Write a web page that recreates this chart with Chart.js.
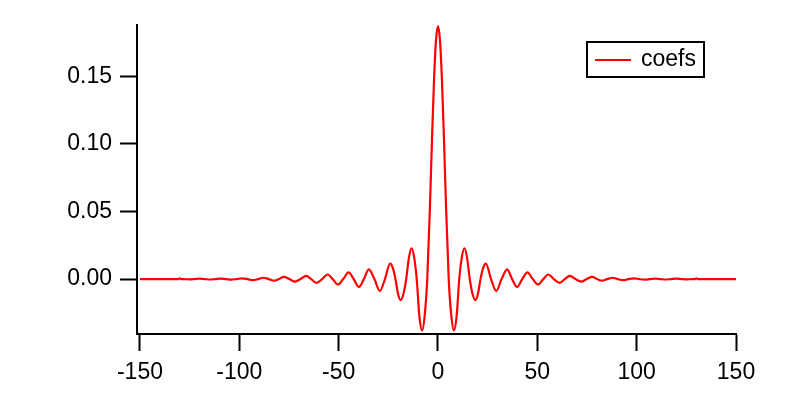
<!DOCTYPE html>
<html>
<head>
<meta charset="utf-8">
<script src="https://cdn.jsdelivr.net/npm/chart.js@4/dist/chart.umd.min.js"></script>
<style>
  html, body { margin: 0; padding: 0; background: #fff; }
  #chart { display: block; }
</style>
</head>
<body>
<canvas id="chart" width="790" height="416"></canvas>
<script>
// sample positions (turning points and zero crossings)
const xValues = [
  -150, -131, -130, -129, -128,
  -125.3, -122.7, -120, -117.4, -114.7, -112, -109.4, -106.7, -104, -101.3,
  -98.6, -95.8, -93.1, -90.5, -87.9, -85.2, -82.6, -80.1, -77.6, -74.8,
  -72, -69.2, -66.4, -63.8, -61.2, -58.3, -55.5, -53, -50.4, -47.7,
  -45, -42.4, -39.8, -37.3, -34.8, -32, -29.3, -26.7, -24.1, -22.7,
  -21.4, -20.1, -18.8, -17.4, -16, -14.6, -13.3, -12, -10.7, -9.4,
  -8, -6.7, -5.4, -4, -3, -2, -1,
  0,
  1, 2, 3, 4, 5.4, 6.7, 8,
  9.4, 10.7, 12, 13.3, 14.6, 16, 17.4, 18.8, 20.1, 21.4,
  22.7, 24.1, 26.7, 29.3, 32, 34.8, 37.3, 39.8, 42.4, 45,
  47.7, 50.4, 53, 55.5, 58.3, 61.2, 63.8, 66.4, 69.2, 72,
  74.8, 77.6, 80.1, 82.6, 85.2, 87.9, 90.5, 93.1, 95.8, 98.6,
  101.3, 104, 106.7, 109.4, 112, 114.7, 117.4, 120, 122.7, 125.3,
  128, 129, 130, 131, 150
];

const coefs = [
  0, 0, 0.0006, 0, 0,
  -0.0002, 0, 0.0003, 0, -0.0003, 0, 0.0004, 0, -0.0004, 0,
  0.0006, 0, -0.0008, 0, 0.001, 0, -0.0012, 0, 0.0016, 0,
  -0.0019, 0, 0.0024, 0, -0.0028, 0, 0.0034, 0, -0.004, 0,
  0.0049, 0, -0.0058, 0, 0.0072, 0, -0.0088, 0, 0.0115, 0.0081,
  0, -0.011, -0.0155, -0.011, 0, 0.0161, 0.0228, 0.0161, 0, -0.027,
  -0.038, -0.027, 0, 0.056, 0.104, 0.147, 0.1765,
  0.187,
  0.1765, 0.147, 0.104, 0.056, 0, -0.027, -0.038,
  -0.027, 0, 0.0161, 0.0228, 0.0161, 0, -0.011, -0.0155, -0.011, 0,
  0.0081, 0.0115, 0, -0.0088, 0, 0.0072, 0, -0.0058, 0, 0.0049,
  0, -0.004, 0, 0.0034, 0, -0.0028, 0, 0.0024, 0, -0.0019,
  0, 0.0016, 0, -0.0012, 0, 0.001, 0, -0.0008, 0, 0.0006,
  0, -0.0004, 0, 0.0004, 0, -0.0003, 0, 0.0003, 0, -0.0002,
  0, 0, 0.0006, 0, 0
];

const xTicks = [-150, -100, -50, 0, 50, 100, 150];
const yTicks = [0, 0.05, 0.1, 0.15];
const seriesLabel = "coefs";

const font = { family: "'Liberation Sans', Arial, Helvetica, sans-serif", size: 23 };
const points = xValues.map((x, i) => ({ x: x, y: coefs[i] }));

// Igor-style boxed legend in the top right
const boxedLegend = {
  id: "boxedLegend",
  afterDraw(chart) {
    const ctx = chart.ctx;
    const ds = chart.data.datasets[0];
    ctx.save();
    ctx.strokeStyle = "#000";
    ctx.lineWidth = 2;
    ctx.strokeRect(587, 42, 117, 35);
    ctx.strokeStyle = ds.borderColor;
    ctx.lineWidth = 2;
    ctx.beginPath();
    ctx.moveTo(595, 60);
    ctx.lineTo(631, 60);
    ctx.stroke();
    ctx.fillStyle = "#000";
    ctx.font = font.size + "px " + font.family;
    ctx.textBaseline = "middle";
    ctx.fillText(ds.label, 641, 60);
    ctx.restore();
  }
};

const axisCommon = {
  type: "linear",
  grid: {
    display: true,
    drawOnChartArea: false,
    drawTicks: true,
    tickLength: 17,
    tickWidth: 2,
    tickColor: "#000"
  },
  border: { display: true, color: "#000", width: 2 }
};

new Chart(document.getElementById("chart"), {
  type: "line",
  data: {
    datasets: [{
      label: seriesLabel,
      data: points,
      borderColor: "#ff0000",
      borderWidth: 2.2,
      pointRadius: 0,
      fill: false,
      cubicInterpolationMode: "monotone",
      clip: false
    }]
  },
  options: {
    responsive: false,
    animation: false,
    layout: { padding: { top: 25, right: 54, left: 0, bottom: 0 } },
    plugins: {
      legend: { display: false },
      tooltip: { enabled: false }
    },
    scales: {
      x: {
        ...axisCommon,
        min: -151.5,
        max: 150,
        afterBuildTicks: (s) => { s.ticks = xTicks.map(v => ({ value: v })); },
        afterFit: (s) => { s.height = 82; },
        ticks: {
          color: "#000",
          font: font,
          padding: 8,
          maxRotation: 0,
          autoSkip: false,
          callback: (v) => String(v)
        }
      },
      y: {
        ...axisCommon,
        min: -0.0406,
        max: 0.1879,
        afterBuildTicks: (s) => { s.ticks = yTicks.map(v => ({ value: v })); },
        afterFit: (s) => { s.width = 137; },
        ticks: {
          color: "#000",
          font: font,
          padding: 8,
          callback: (v) => v.toFixed(2)
        }
      }
    }
  },
  plugins: [boxedLegend]
});
</script>
</body>
</html>
